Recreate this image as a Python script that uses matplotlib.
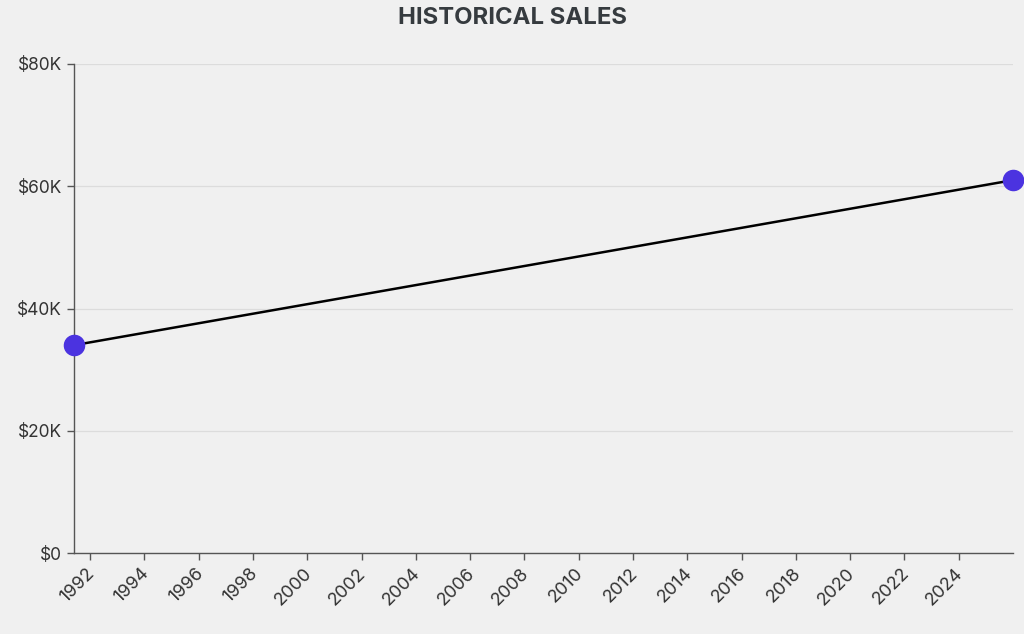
import matplotlib
matplotlib.use("Agg")
import matplotlib.pyplot as plt
import matplotlib.dates as mdates
import matplotlib.transforms as mtransforms
from matplotlib.ticker import FuncFormatter
from datetime import datetime

dates = [datetime(1991, 5, 30), datetime(2026, 1, 1)]
sales = [34000, 61000]
tick_years = list(range(1992, 2025, 2))
y_ticks = [0, 20000, 40000, 60000, 80000]

plt.rcParams['font.family'] = ['Inter', 'DejaVu Sans']
bg = '#f0f0f0'
fig = plt.figure(figsize=(10.24, 6.34), dpi=100, facecolor=bg)
ax = fig.add_axes([74/1024, 81/634, (1013-74)/1024, (553-64)/634], facecolor=bg)

ax.plot(dates, sales, color='black', lw=1.8, zorder=3)
ax.plot(dates, sales, 'o', color='#4b33e0', ms=14.5, clip_on=False, zorder=4)

ax.set_xlim(dates[0], dates[-1])
ax.set_ylim(0, 80000)
ax.set_yticks(y_ticks)
ax.yaxis.set_major_formatter(FuncFormatter(lambda v, p: '$0' if v == 0 else f'${int(v/1000)}K'))
ax.set_xticks([mdates.date2num(datetime(y, 1, 1)) for y in tick_years])
ax.set_xticklabels([str(y) for y in tick_years], rotation=45, ha='right', rotation_mode='anchor')

ax.grid(axis='y', color='#dcdcdc', lw=0.9)
ax.set_axisbelow(True)
for s in ['top', 'right']:
    ax.spines[s].set_visible(False)
for s in ['left', 'bottom']:
    ax.spines[s].set_color('#555555')
    ax.spines[s].set_linewidth(1.0)
ax.tick_params(axis='both', colors='#555555', labelcolor='#333333', labelsize=12.5, length=5, width=1.0)
ax.tick_params(axis='x', labelsize=13)

offset = mtransforms.ScaledTranslation(-4/100, 0, fig.dpi_scale_trans)
for lbl in ax.get_xticklabels():
    lbl.set_transform(lbl.get_transform() + offset)

fig.text(512/1024, 1 - 18/634, 'HISTORICAL SALES', ha='center', va='center',
         fontsize=17.2, fontweight='bold', color='#363b3f')

fig.savefig('out.png', dpi=100, facecolor=bg)
